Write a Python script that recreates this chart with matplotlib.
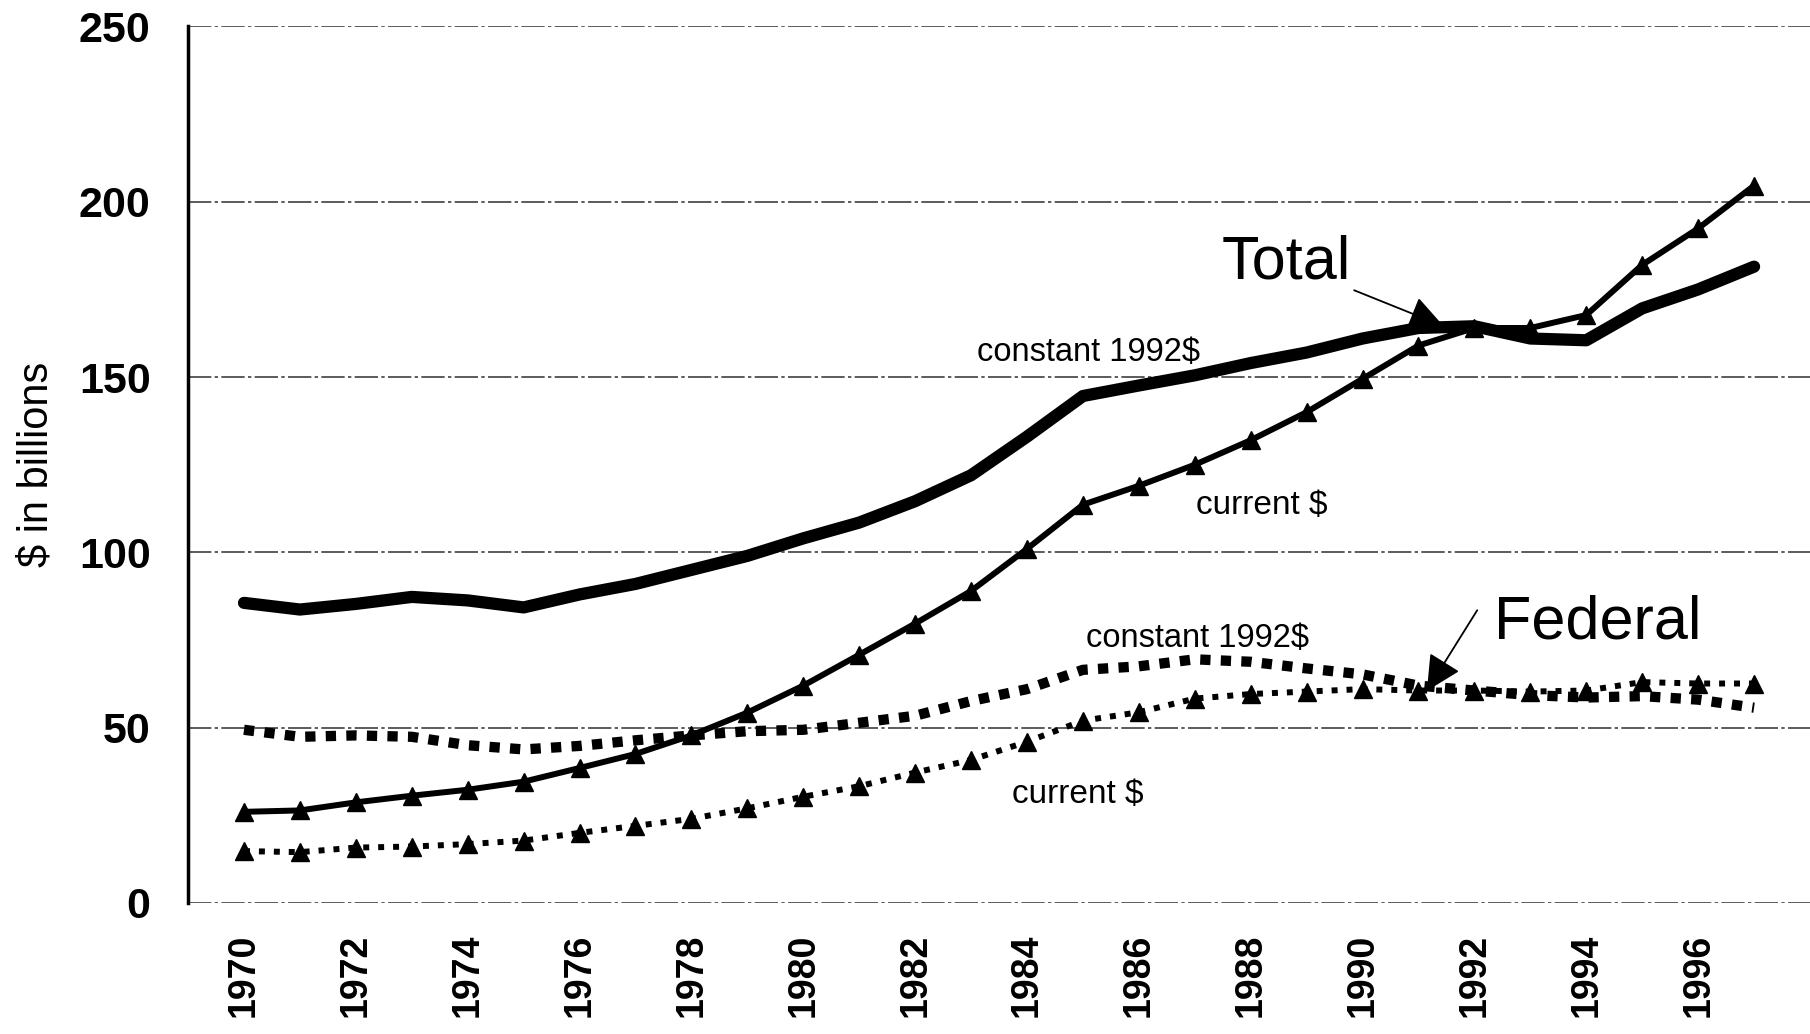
import numpy as np
import matplotlib.pyplot as plt

plt.rcParams['font.family'] = ['Liberation Sans', 'DejaVu Sans']

years = np.arange(1970, 1998)

# Total R&D, $ in billions
total_constant = [85.6, 83.7, 85.3, 87.3, 86.3, 84.3, 88.0, 91.0, 95.0, 99.0,
                  104.0, 108.5, 114.6, 122.0, 133.0, 144.6, 147.6, 150.5, 154.0, 157.0,
                  161.0, 164.0, 164.5, 161.0, 160.5, 169.6, 175.0, 181.5]
total_current = [26.0, 26.4, 28.7, 30.6, 32.3, 34.6, 38.5, 42.5, 47.8, 54.3,
                 62.0, 70.8, 79.7, 89.0, 101.0, 113.6, 119.0, 125.0, 132.0, 140.0,
                 149.5, 159.0, 164.0, 164.0, 167.7, 182.0, 192.4, 204.6]

# Federal R&D, $ in billions
fed_constant = [49.4, 47.4, 47.8, 47.4, 45.0, 43.8, 44.8, 46.4, 47.8, 49.0,
                49.4, 51.4, 53.4, 57.6, 61.0, 66.5, 67.5, 69.5, 68.8, 66.9,
                65.2, 62.0, 60.6, 59.3, 58.6, 59.0, 58.0, 55.7]
fed_current = [14.8, 14.5, 15.8, 16.1, 16.8, 17.8, 20.0, 22.0, 24.0, 27.0,
               30.3, 33.3, 37.2, 40.8, 46.0, 52.0, 54.4, 58.3, 59.6, 60.3,
               61.0, 60.6, 60.6, 60.3, 60.6, 63.0, 62.6, 62.6]

xtick_years = np.arange(1970, 1997, 2)
ytick_vals = [0, 50, 100, 150, 200, 250]

fig = plt.figure(figsize=(18.10, 10.34), dpi=100)
ax = fig.add_axes([0.1039, 0.1267, 0.8961, 0.8477])

# grid lines
for v in ytick_vals:
    ax.axhline(v, color='0.25', lw=1.2, ls=(0, (14, 2, 2, 2)), zorder=1)

ax.plot(years, total_constant, color='k', lw=8.8, solid_capstyle='round',
        solid_joinstyle='round', zorder=3)
ax.plot(years, total_current, color='k', lw=4.3, marker='^', ms=13, zorder=3)
ax.plot(years, fed_constant, color='k', lw=7.4, ls=(0, (1, 1)),
        dash_capstyle='butt', zorder=3)
ax.plot(years, fed_current, color='k', lw=4.3, ls=(0, (1, 1.5)),
        dash_capstyle='butt', marker='^', ms=13, zorder=3)

# annotations
ax.annotate('Total', xy=(1991.45, 164.5), xytext=(1989.8, 182.5),
            fontsize=44, ha='right', va='center',
            arrowprops=dict(arrowstyle='-|>', color='k', lw=1.3,
                            mutation_scale=55, shrinkA=0, shrinkB=0))
ax.annotate('', xy=(1991.15, 60.5), xytext=(1992.05, 83.5),
            arrowprops=dict(arrowstyle='-|>', color='k', lw=1.3,
                            mutation_scale=55, shrinkA=0, shrinkB=0))
ax.text(1992.35, 80.0, 'Federal', fontsize=44, ha='left', va='center')
ax.text(1985.1, 157.0, 'constant 1992$', fontsize=23.5, ha='center', va='center')
ax.text(1988.2, 113.5, 'current $', fontsize=24, ha='center', va='center')
ax.text(1987.05, 75.5, 'constant 1992$', fontsize=23.5, ha='center', va='center')
ax.text(1984.9, 31.0, 'current $', fontsize=24, ha='center', va='center')

ax.set_xlim(1969, 1998)
ax.set_ylim(0, 250)
ax.set_yticks(ytick_vals)
ax.set_yticklabels([str(v) for v in ytick_vals], fontsize=31, fontweight='bold')
ax.set_xticks(xtick_years)
ax.set_xticklabels([str(y) for y in xtick_years], fontsize=27,
                   fontweight='bold', rotation=90)
ax.tick_params(axis='y', length=0, pad=27)
ax.tick_params(axis='x', length=0, pad=22)
ax.set_ylabel('$ in billions', fontsize=30)
ax.yaxis.set_label_coords(-0.081, 0.5)

for s in ['top', 'right', 'bottom']:
    ax.spines[s].set_visible(False)
ax.spines['left'].set_linewidth(2.5)
ax.spines['left'].set_zorder(4)

fig.savefig('out.png', dpi=100)
